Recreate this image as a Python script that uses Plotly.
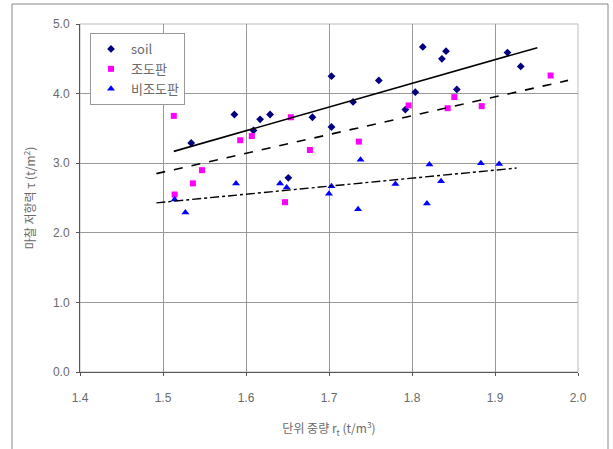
import plotly.graph_objects as go

# ---- data ----
soil_x = [1.534, 1.586, 1.609, 1.617, 1.629, 1.651, 1.680, 1.703, 1.703, 1.729,
          1.760, 1.792, 1.804, 1.813, 1.836, 1.841, 1.854, 1.915, 1.931]
soil_y = [3.29, 3.70, 3.47, 3.63, 3.70, 2.79, 3.66, 4.25, 3.52, 3.88,
          4.19, 3.77, 4.02, 4.67, 4.50, 4.61, 4.06, 4.59, 4.39]

rough_x = [1.513, 1.514, 1.536, 1.547, 1.593, 1.607, 1.647, 1.654, 1.677, 1.736,
           1.796, 1.843, 1.851, 1.884, 1.967]
rough_y = [3.68, 2.55, 2.71, 2.90, 3.33, 3.39, 2.44, 3.66, 3.19, 3.31,
           3.83, 3.79, 3.95, 3.82, 4.26]

smooth_x = [1.514, 1.527, 1.588, 1.641, 1.649, 1.700, 1.703, 1.735, 1.738, 1.780,
            1.818, 1.821, 1.835, 1.883, 1.905]
smooth_y = [2.48, 2.29, 2.71, 2.71, 2.65, 2.56, 2.67, 2.34, 3.05, 2.70,
            2.42, 2.98, 2.74, 3.00, 2.99]

# trend line end points
soil_trend_x = [1.513, 1.951]
soil_trend_y = [3.17, 4.66]
rough_trend_x = [1.492, 1.988]
rough_trend_y = [2.85, 4.19]
smooth_trend_x = [1.492, 1.926]
smooth_trend_y = [2.43, 2.93]

x_ticks = [1.4, 1.5, 1.6, 1.7, 1.8, 1.9, 2.0]
y_ticks = [0.0, 1.0, 2.0, 3.0, 4.0, 5.0]

KR = "Noto Sans CJK KR, Noto Sans, sans-serif"
TICKF = "Liberation Sans, Arial, sans-serif"
GRAY = "#6a6a6a"

fig = go.Figure()

fig.add_trace(go.Scatter(x=soil_x, y=soil_y, mode="markers", name="soil",
                         marker=dict(symbol="diamond", size=6, color="#000080")))
fig.add_trace(go.Scatter(x=rough_x, y=rough_y, mode="markers", name="조도판",
                         marker=dict(symbol="square", size=6, color="#FF00FF")))
fig.add_trace(go.Scatter(x=smooth_x, y=smooth_y, mode="markers", name="비조도판",
                         marker=dict(symbol="triangle-up", size=7, color="#0000FF")))

fig.add_trace(go.Scatter(x=soil_trend_x, y=soil_trend_y, mode="lines", showlegend=False,
                         line=dict(color="black", width=1.6, dash="solid"), hoverinfo="skip"))
fig.add_trace(go.Scatter(x=rough_trend_x, y=rough_trend_y, mode="lines", showlegend=False,
                         line=dict(color="black", width=1.6, dash="dash"), hoverinfo="skip"))
fig.add_trace(go.Scatter(x=smooth_trend_x, y=smooth_trend_y, mode="lines", showlegend=False,
                         line=dict(color="black", width=1.4, dash="dashdot"), hoverinfo="skip"))

L, R, T, B = 80, 35, 24, 77
W, H = 613, 449
pw, ph = W - L - R, H - T - B

fig.update_layout(
    width=W, height=H,
    margin=dict(l=L, r=R, t=T, b=B),
    paper_bgcolor="white", plot_bgcolor="white",
    font=dict(family=TICKF, size=12, color=GRAY),
    legend=dict(x=(90 - L) / pw, y=(H - B - 33) / ph, xanchor="left", yanchor="top",
                bordercolor="#999999", borderwidth=1, bgcolor="white",
                font=dict(family=KR, size=13, color=GRAY),
                itemwidth=30, tracegroupgap=0),
    showlegend=True,
    xaxis=dict(range=[1.4, 2.0], tickvals=x_ticks,
               ticktext=[f"{v:.1f}" for v in x_ticks],
               showgrid=True, gridcolor="#999999", gridwidth=1,
               showline=True, linecolor="#555555", linewidth=1, mirror=False,
               ticks="outside", ticklen=3, tickcolor="#555555",
               ticklabelstandoff=12,
               zeroline=False,
               tickfont=dict(family=TICKF, size=12, color=GRAY),
               title=dict(text="단위 중량 r<sub>t</sub> (t/m<sup>3</sup>)",
                          font=dict(family=KR, size=12, color=GRAY), standoff=20)),
    yaxis=dict(range=[0, 5.0], tickvals=y_ticks,
               ticktext=[f"{v:.1f}" for v in y_ticks],
               showgrid=True, gridcolor="#999999", gridwidth=1,
               showline=True, linecolor="#555555", linewidth=1, mirror=False,
               ticks="outside", ticklen=3, tickcolor="#555555",
               ticklabelstandoff=4,
               zeroline=False,
               tickfont=dict(family=TICKF, size=12, color=GRAY),
               title=dict(text="마찰 저항력 τ (t/m<sup>2</sup>)",
                          font=dict(family=KR, size=12, color=GRAY), standoff=14)),
    shapes=[
        # light plot-area frame (top/right)
        dict(type="rect", xref="paper", yref="paper", x0=0, x1=1, y0=0, y1=1,
             line=dict(color="#bbbbbb", width=1), layer="below"),
        # outer chart frame
        dict(type="rect", xref="paper", yref="paper",
             x0=(12 - L) / pw, x1=(608 - L) / pw,
             y0=(H - B - 460) / ph, y1=(H - B - 4) / ph,
             line=dict(color="#888888", width=1)),
    ],
)

fig.write_html("out.html", config={"displayModeBar": False},
               post_script="document.body.style.margin='0px';document.body.style.overflow='hidden';")
